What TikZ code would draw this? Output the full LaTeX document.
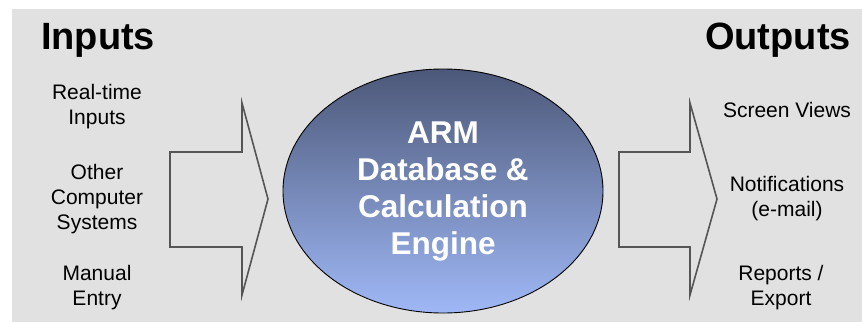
\documentclass[tikz,border=0pt]{standalone}
\usepackage{fontspec}
\setmainfont{Liberation Sans}
\usetikzlibrary{shapes.geometric}
\definecolor{bggray}{HTML}{E1E1E1}
\definecolor{arrowgray}{HTML}{555555}
\definecolor{elltop}{HTML}{4C5878}
\definecolor{ellbot}{HTML}{9FB8F6}
\tikzset{
  heading/.style={font=\fontsize{38}{42}\selectfont\bfseries, inner sep=0pt},
  label/.style={font=\fontsize{21}{25}\selectfont, align=center, inner sep=0pt},
  bigarrow/.style={draw=arrowgray, line width=1.6pt, line join=miter},
  engine/.style={ellipse, draw=black, line width=0.9pt, top color=elltop, bottom color=ellbot,
    minimum width=320pt, minimum height=244pt, inner sep=0pt, text=white,
    font=\fontsize{31.5}{37}\selectfont\bfseries, align=center}
}
\begin{document}
\begin{tikzpicture}[x=1pt,y=-1pt]
\useasboundingbox (0,0) rectangle (862,322);
\fill[white] (0,0) rectangle (862,322);
\fill[bggray] (12,9) rectangle (862,322);

\node[heading] (inputs) at (98,40) {Inputs};
\node[heading] (outputs) at (778,40) {Outputs};

\node[label] (rt) at (97,107) {Real-time\\Inputs};
\node[label] (ocs) at (97,199) {Other\\Computer\\Systems};
\node[label] (me) at (97,288) {Manual\\Entry};

\node[label] (sv) at (787,110) {Screen Views};
\node[label] (nt) at (787,199) {Notifications\\(e-mail)};
\node[label] (re) at (781,288) {Reports /\\Export};

\draw[bigarrow] (170,152) -- (242,152) -- (242,103) -- (268,199) -- (242,295) -- (242,247) -- (170,247) -- cycle;
\draw[bigarrow] (619,152) -- (690,152) -- (690,103) -- (717,199) -- (690,295) -- (690,247) -- (619,247) -- cycle;

\node[engine] (arm) at (443,191) {ARM\\Database \&\\Calculation\\Engine};
\end{tikzpicture}
\end{document}
